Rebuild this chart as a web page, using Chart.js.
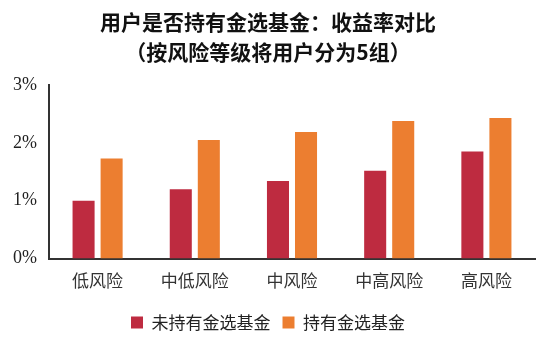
<!DOCTYPE html>
<html>
<head>
<meta charset="utf-8">
<script src="https://cdn.jsdelivr.net/npm/chart.js@4/dist/chart.umd.min.js"></script>
<style>
  html, body { margin: 0; padding: 0; background: #fff; }
  #wrap { width: 550px; height: 348px; }
</style>
</head>
<body>
<div id="wrap"><canvas id="returnChart"></canvas></div>
<script>
// risk groups and average returns (%)
const riskGroups = ['低风险', '中低风险', '中风险', '中高风险', '高风险'];
const notHolding = [1.0, 1.2, 1.34, 1.52, 1.85];
const holding = [1.73, 2.05, 2.19, 2.38, 2.43];
const yTicks = [0, 1, 2, 3];

document.addEventListener('DOMContentLoaded', () => {
    const ctx = document.getElementById('returnChart');

    Chart.defaults.font.family = '"Noto Sans CJK SC", "Noto Sans", sans-serif';

    new Chart(ctx, {
        type: 'bar',
        data: {
            labels: riskGroups,
            datasets: [{
                label: '未持有金选基金',
                data: notHolding,
                backgroundColor: '#BE2B40',
                categoryPercentage: 0.577,
                barPercentage: 0.786
            }, {
                label: '持有金选基金',
                data: holding,
                backgroundColor: '#EC7E30',
                categoryPercentage: 0.577,
                barPercentage: 0.786
            }]
        },
        options: {
            responsive: true,
            maintainAspectRatio: false,
            animation: false,
            layout: {
                padding: { left: 1, right: 15, top: 0, bottom: 7 }
            },
            scales: {
                y: {
                    min: yTicks[0],
                    max: yTicks[yTicks.length - 1],
                    afterBuildTicks: axis => {
                        axis.ticks = yTicks.map(v => ({ value: v }));
                    },
                    ticks: {
                        color: '#222',
                        padding: 12,
                        font: { family: '"Liberation Serif", serif', size: 18 },
                        callback: v => v + '%'
                    },
                    grid: { display: false, drawTicks: false },
                    border: { display: true, color: '#333', width: 2 }
                },
                x: {
                    ticks: {
                        color: '#333',
                        padding: 4,
                        font: { size: 17 }
                    },
                    grid: { display: false },
                    border: { display: true, color: '#333', width: 2 },
                    afterFit: axis => { axis.height += 7; }
                }
            },
            plugins: {
                title: {
                    display: true,
                    text: ['用户是否持有金选基金：收益率对比', '（按风险等级将用户分为5组）'],
                    color: '#111',
                    font: { size: 21, weight: 'bold', lineHeight: 1.43 },
                    padding: { top: 7, bottom: 18 }
                },
                legend: {
                    position: 'bottom',
                    labels: {
                        color: '#222',
                        boxWidth: 12,
                        boxHeight: 12,
                        padding: 12,
                        font: { size: 17 }
                    }
                },
                tooltip: { enabled: false }
            }
        }
    });
});
</script>
</body>
</html>
